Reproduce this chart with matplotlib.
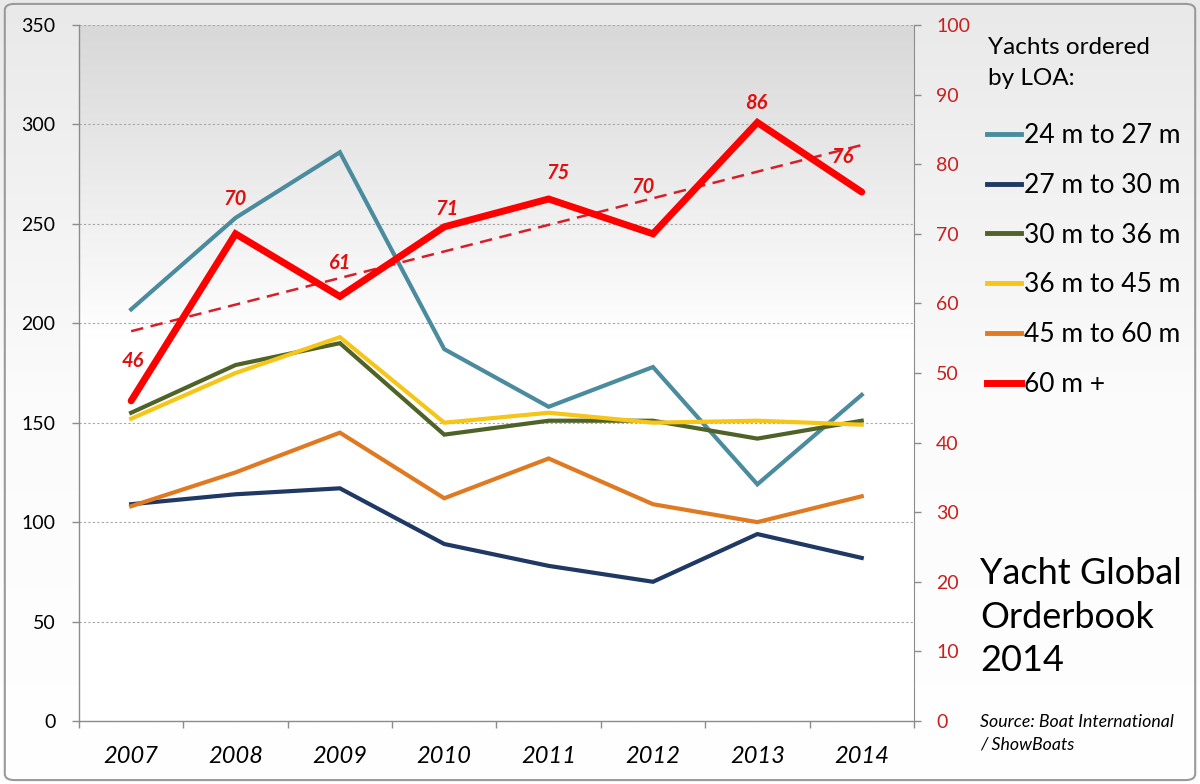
import numpy as np
import matplotlib
matplotlib.use("Agg")
import matplotlib.pyplot as plt
from matplotlib.colors import LinearSegmentedColormap
from matplotlib.patches import FancyBboxPatch
from matplotlib.lines import Line2D

years = ["2007", "2008", "2009", "2010", "2011", "2012", "2013", "2014"]
s_24_27 = [207, 253, 286, 187, 158, 178, 119, 164]
s_27_30 = [109, 114, 117, 89, 78, 70, 94, 82]
s_30_36 = [155, 179, 190, 144, 151, 151, 142, 151]
s_36_45 = [152, 175, 193, 150, 155, 150, 151, 149]
s_45_60 = [108, 125, 145, 112, 132, 109, 100, 113]
s_60_plus = [46, 70, 61, 71, 75, 70, 86, 76]
labels = ["24 m to 27 m", "27 m to 30 m", "30 m to 36 m",
          "36 m to 45 m", "45 m to 60 m", "60 m +"]
colors = ["#4a8c9e", "#1f3864", "#4f6228", "#f5c518", "#e07a22", "#ff0000"]
# label offsets (points) for the 60 m + data labels
label_offsets = [(1, 29), (0, 25), (0, 24), (2, 13), (7, 19), (-7, 34), (-1, 14), (-14, 25)]

FONT = ["Lato", "DejaVu Sans"]
plt.rcParams["font.family"] = FONT

fig = plt.figure(figsize=(12, 7.84), dpi=100)

# figure background gradient
bg = fig.add_axes([0, 0, 1, 1], zorder=-10)
bg.set_axis_off()
grad_bg = np.linspace(0, 1, 256).reshape(-1, 1)
cmap_bg = LinearSegmentedColormap.from_list("bg", ["#e9e9e9", "#fbfbfb", "#ffffff"])
bg.imshow(grad_bg, aspect="auto", cmap=cmap_bg, extent=[0, 1, 0, 1], origin="upper")
bg.set_xlim(0, 1)
bg.set_ylim(0, 1)
bg.add_patch(FancyBboxPatch((0.004, 0.005), 0.992, 0.99,
                            boxstyle="round,pad=0,rounding_size=0.008",
                            fill=False, edgecolor="#9a9a9a", linewidth=1.5,
                            transform=bg.transAxes))

ax = fig.add_axes([0.0658, 0.0804, 0.6958, 0.8877])
ax.set_facecolor("none")
grad = np.linspace(0, 1, 256).reshape(-1, 1)
cmap_pa = LinearSegmentedColormap.from_list("pa", [(0, "#d8d8d8"), (0.45, "#ffffff"), (1, "#ffffff")])
ax.imshow(grad, aspect="auto", cmap=cmap_pa, extent=[0, 1, 0, 1],
          transform=ax.transAxes, origin="upper", zorder=0)

x = np.arange(len(years))
series = [s_24_27, s_27_30, s_30_36, s_36_45, s_45_60]
for s, c, l in zip(series, colors[:5], labels[:5]):
    ax.plot(x, s, color=c, lw=3.0, solid_joinstyle="miter", zorder=3, label=l)

ax.set_xlim(-0.5, len(years) - 0.5)
ax.set_ylim(0, 350)
ax.set_yticks(np.arange(0, 351, 50))
ax.yaxis.grid(True, color="#a6a6a6", linestyle=(0, (2, 2)), linewidth=0.8)
for g in ax.get_ygridlines():
    g.set_zorder(1)
ax.set_xticks(x)
ax.set_xticklabels(years, fontsize=17, style="italic")
ax.set_xticks(np.arange(-0.5, len(years)), minor=True)
ax.tick_params(axis="x", which="major", length=0, pad=18)
ax.tick_params(axis="x", which="minor", length=5, color="#8c8c8c", width=1)
ax.tick_params(axis="y", length=5, color="#8c8c8c", width=1, labelsize=14, pad=12)
for sp in ["top", "right"]:
    ax.spines[sp].set_visible(False)
for sp in ["left", "bottom"]:
    ax.spines[sp].set_color("#8c8c8c")
    ax.spines[sp].set_linewidth(1)

ax2 = ax.twinx()
ax2.set_ylim(0, 100)
ax2.set_yticks(np.arange(0, 101, 10))
ax2.tick_params(axis="y", length=5, color="#8c8c8c", width=1, labelsize=14,
                labelcolor="#c8201e", pad=11)
for sp in ["top", "left", "bottom"]:
    ax2.spines[sp].set_visible(False)
ax2.spines["right"].set_color("#8c8c8c")

coef = np.polyfit(x, s_60_plus, 1)
trend = np.polyval(coef, x)
ax2.plot(x, trend, color="#d81e28", lw=1.8, linestyle=(0, (5, 3)), zorder=4)
ax2.plot(x, s_60_plus, color=colors[5], lw=5.0, solid_joinstyle="miter",
         solid_capstyle="round", zorder=5, label=labels[5])
for xi, v, off in zip(x, s_60_plus, label_offsets):
    ax2.annotate(str(v), (xi, v), xytext=off, textcoords="offset points",
                 ha="center", va="center", color="#e01010", fontsize=14.5,
                 fontweight="bold", style="italic")

fig.text(0.8233, 1 - 37 / 784, "Yachts ordered\nby LOA:", fontsize=17.5,
         ha="left", va="top", linespacing=1.58)

leg_handles = [Line2D([0], [0], color=c, lw=(5 if i == 5 else 3.5)) for i, c in enumerate(colors)]
leg = fig.legend(leg_handles, labels, loc="upper left",
                 bbox_to_anchor=(0.8225, 1 - 123 / 784), frameon=False,
                 fontsize=19, handlelength=1.29, handletextpad=0.11,
                 labelspacing=0.94, borderpad=0, borderaxespad=0)

fig.text(0.8167, 1 - 617 / 784, "Yacht Global\nOrderbook\n2014", fontsize=26,
         ha="left", va="center", linespacing=1.4)
fig.text(0.8167, 1 - 733 / 784, "Source: Boat International\n/ ShowBoats", fontsize=12.8,
         style="italic", ha="left", va="center", linespacing=1.5)

fig.savefig("out.png", dpi=100)
